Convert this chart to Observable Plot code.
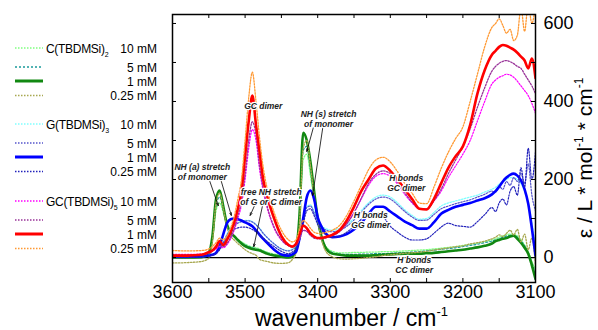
<!DOCTYPE html>
<html><head><meta charset="utf-8">
<script src="https://cdn.jsdelivr.net/npm/d3@7"></script>
<script src="https://cdn.jsdelivr.net/npm/@observablehq/plot@0.6"></script>
<style>body{margin:0;background:#fff} #chart{width:598px;height:330px}</style>
</head><body><div id="chart"></div>
<script>
// wavenumber grid (cm-1)
const wn = [3600,3580,3560,3550,3545,3540,3535,3530,3525,3520,3515,3510,3505,3500,3495,3490,3485,3480,3475,3470,
  3460,3450,3440,
  3435,3430,3425,3420,3415,3410,3405,3400,3395,3390,
  3380,3370,3360,3350,3340,3330,3320,3310,3300,3290,3280,3270,3260,3250,3240,3230,3220,3210,3200,3190,3180,3170,3160,
  3155,3150,3145,3140,3135,3130,3125,3120,3115,3110,3105,3100];

// C(TBDMSi)2
const C10 = [3,3,4,12,45,120,140,115,80,60,52,45,40,35,30,27,25,22,18,14, 9,6,5,
  8,22,85,250,265,210,150,95,55,32,
  16,12,12,13,13,14,14,15,15,16,17,18,19,20,22,24,26,28,31,34,37,41,45,
  48,52,55,58,60,60,55,45,32,15,-10,-30];
const C5 = [1,1,2,10,50,135,155,122,82,62,53,45,38,32,28,25,22,20,16,12, 7,4,2,
  5,20,95,275,285,225,155,95,52,28,
  13,9,8,8,9,9,10,10,11,12,13,14,15,17,19,21,23,25,28,31,34,38,42,
  45,48,52,55,57,58,52,42,30,12,-15,-40];
const C1 = [0,0,1,12,55,150,172,130,85,64,55,45,36,29,25,22,20,18,14,10, 5,2,0,
  3,20,110,320,300,245,170,100,55,28,
  10,7,5,5,5,5,6,7,8,9,10,10,10,11,12,14,16,18,20,23,26,30,36,
  42,45,48,50,54,56,48,38,25,10,-20,-55];
const C025 = [-14,-13,-10,-2,40,140,165,125,78,55,45,36,28,20,14,10,6,-5,-8,-10, -14,-15,-13,
  -5,10,90,280,300,235,160,95,48,20,
  2,-3,-4,-3,-2,0,2,5,7,9,11,12,14,16,19,22,25,28,30,35,38,42,48,
  52,58,54,62,70,58,72,40,60,20,50,-20];
// G(TBDMSi)3
const G10 = [3,3,4,6,8,12,22,40,60,75,85,90,93,95,95,92,85,75,62,52, 35,22,18,
  22,30,55,95,130,135,118,95,82,75,
  70,75,85,100,120,140,155,160,155,140,122,108,98,100,115,132,140,145,150,155,160,168,175,
  180,188,195,200,205,205,200,190,170,140,90,30];
const G5 = [2,2,3,5,7,11,22,38,58,72,82,88,92,94,94,91,84,74,62,52, 35,22,17,
  20,28,52,92,128,132,115,92,80,72,
  66,70,80,96,116,136,150,155,150,135,118,104,95,96,110,125,132,138,143,148,155,162,170,
  168,182,175,195,185,205,195,215,190,240,160,120];
const G1 = [2,2,3,5,7,12,30,60,88,98,100,98,95,90,86,80,70,58,48,38, 20,8,5,
  8,14,50,100,155,172,150,103,80,64,
  52,54,60,72,88,112,130,130,118,105,92,83,74,74,90,112,122,130,135,140,146,152,162,
  170,182,195,205,212,215,210,198,175,138,75,5];
const G025 = [0,0,2,4,6,10,20,35,52,65,72,76,78,78,76,72,66,58,50,42, 28,16,10,
  14,22,45,85,120,125,108,85,70,60,
  52,55,65,80,98,112,115,105,80,65,52,45,45,48,62,78,88,82,80,78,92,110,128,
  118,140,150,135,170,182,160,230,180,280,200,270];
// GC(TBDMSi)5
const GC10 = [8,8,9,12,16,22,28,25,33,48,70,100,135,200,280,328,300,225,170,130, 75,45,30,
  28,32,48,70,68,58,52,50,50,52,
  58,68,88,115,150,185,208,215,208,188,162,140,125,125,145,170,205,235,265,300,350,400,445,
  455,462,466,470,468,462,452,440,428,415,395,370];
const GC5 = [6,6,8,12,17,25,32,28,36,52,75,108,145,215,300,348,315,235,178,135, 78,46,30,
  27,31,47,70,67,57,50,48,48,50,
  56,66,86,115,152,190,213,222,215,193,166,142,126,124,145,175,215,250,285,330,385,435,478,
  490,498,503,505,502,497,490,485,470,455,440,420];
const GC1 = [5,5,7,14,18,28,42,32,45,65,90,125,170,260,350,415,340,270,200,160, 100,55,32,
  28,35,60,82,75,62,54,50,50,52,
  58,70,95,130,170,200,228,236,222,200,175,150,125,123,150,190,230,260,285,340,420,480,520,
  530,540,545,543,538,533,525,515,505,485,510,460];
const GC025 = [18,17,18,22,28,38,50,45,55,75,105,150,200,300,410,475,400,305,230,180, 115,70,45,
  40,45,72,95,88,75,65,62,62,64,
  70,82,108,145,185,225,250,257,245,220,190,165,140,138,180,228,270,305,335,400,470,540,590,
  600,612,595,575,585,556,570,640,580,650,600,650];

const groups = ["C(TBDMSi)", "G(TBDMSi)", "GC(TBDMSi)"];
const groupSubs = ["2", "3", "5"];
const concs = ["10 mM", "5 mM", "1 mM", "0.25 mM"];
const xTickLabels = [3600, 3500, 3400, 3300, 3200, 3100];
const xMinor = [3600,3550,3500,3450,3400,3350,3300,3250,3200,3150,3100];
const yTickLabels = [0, 200, 400, 600];
const yMinor = [0,100,200,300,400,500,600];

const notes = [
  {text: "GC dimer", x: 3475, y: 390},
  {text: "NH (s) stretch\nof monomer", x: 3385, y: 356},
  {text: "NH (a) stretch\nof monomer", x: 3559, y: 220},
  {text: "free NH stretch\nof G or C dimer", x: 3464, y: 155},
  {text: "H bonds\nGG dimer", x: 3327, y: 96},
  {text: "H bonds\nGC dimer", x: 3278, y: 192},
  {text: "H bonds\nCC dimer", x: 3267, y: -19}
];
const arrows = [
  {x1: 3406, y1: 333, x2: 3415, y2: 272},
  {x1: 3393, y1: 333, x2: 3407, y2: 159},
  {x1: 3550, y1: 203, x2: 3537, y2: 133},
  {x1: 3534, y1: 203, x2: 3519, y2: 108},
  {x1: 3487, y1: 133, x2: 3493, y2: 108},
  {x1: 3476, y1: 133, x2: 3488, y2: 28}
];

const series = [
  {key: "C10", v: C10, color: "#80ff80", dash: "1.5,1.5", w: 1.3},
  {key: "C5", v: C5, color: "#1a9a9a", dash: "2,2", w: 1.2},
  {key: "C1", v: C1, color: "#118811", dash: null, w: 2.6},
  {key: "C025", v: C025, color: "#a8a850", dash: "1.5,1.5", w: 1.3},
  {key: "G10", v: G10, color: "#80ffff", dash: "1.5,1.5", w: 1.3},
  {key: "G5", v: G5, color: "#5555cc", dash: "1.5,1.5", w: 1.2},
  {key: "G1", v: G1, color: "#0000ff", dash: null, w: 2.6},
  {key: "G025", v: G025, color: "#2222bb", dash: "1.5,1.5", w: 1.2},
  {key: "GC10", v: GC10, color: "#ff00ff", dash: "1.5,1.5", w: 1.2},
  {key: "GC5", v: GC5, color: "#993399", dash: "1.5,1.5", w: 1.3},
  {key: "GC1", v: GC1, color: "#ff0000", dash: null, w: 2.6},
  {key: "GC025", v: GC025, color: "#ff9933", dash: "1.5,1.5", w: 1.3}
];

const W = 598, H = 330, mL = 172, mR = 63, mT = 14, mB = 48;
const innerW = W - mL - mR, innerH = H - mT - mB;
const font = "'Liberation Sans', Arial, Helvetica, sans-serif";

const lineMarks = series.map(s => Plot.line(wn.map((w, i) => ({wn: w, v: s.v[i]})), {
  x: "wn", y: "v", stroke: s.color, strokeWidth: s.w,
  strokeDasharray: s.dash ?? undefined, curve: "monotone-x", clip: true
}));

const chart = Plot.plot({
  width: W, height: H,
  marginLeft: mL, marginRight: mR, marginTop: mT, marginBottom: mB,
  style: {fontFamily: font, background: "#fff", color: "#000"},
  x: {domain: [3600, 3100], label: null},
  y: {domain: [-64, 623], label: null},
  marks: [
    Plot.ruleY([0], {stroke: "#000", strokeWidth: 1.3}),
    ...lineMarks,
    Plot.arrow(arrows, {x1: "x1", y1: "y1", x2: "x2", y2: "y2", stroke: "#000", strokeWidth: 0.8, headLength: 5, headAngle: 40}),
    Plot.text(notes, {x: "x", y: "y", text: "text", fontSize: 8.5, fontWeight: "bold", fontStyle: "italic",
      lineHeight: 1.15, fill: "#222", stroke: "white", strokeWidth: 2.5, paintOrder: "stroke"}),
    Plot.tickX(xMinor, {x: d => d, insetTop: innerH - 4, stroke: "#000", strokeWidth: 1}),
    Plot.tickX(xMinor, {x: d => d, insetBottom: innerH - 4, stroke: "#000", strokeWidth: 1}),
    Plot.tickY(yMinor, {y: d => d, insetRight: innerW - 4, stroke: "#000", strokeWidth: 1}),
    Plot.tickY(yMinor, {y: d => d, insetLeft: innerW - 4, stroke: "#000", strokeWidth: 1}),
    Plot.axisX(xTickLabels, {anchor: "bottom", tickSize: 0, tickPadding: 3, fontSize: 18, label: null, tickFormat: d => String(d)}),
    Plot.axisY(yTickLabels, {anchor: "right", tickSize: 0, tickPadding: 8, fontSize: 18, label: null, tickFormat: d => String(d)}),
    Plot.frame({stroke: "#000", strokeWidth: 1.5})
  ]
});
document.getElementById("chart").appendChild(chart);

const svg = d3.select(chart);
// axis titles
const xt = svg.append("text").attr("x", mL + innerW / 2 - 2).attr("y", 326)
  .attr("text-anchor", "middle").style("font-size", "23px").style("font-family", font).attr("fill", "#000");
xt.append("tspan").text("wavenumber / cm");
xt.append("tspan").attr("dy", -10).style("font-size", "13px").text("-1");

const yt = svg.append("text").attr("transform", `translate(592,158) rotate(-90)`)
  .attr("text-anchor", "middle").style("font-size", "21px").style("font-family", font).attr("fill", "#000");
yt.append("tspan").text("ε / L * mol");
yt.append("tspan").attr("dy", -9).style("font-size", "12px").text("-1");
yt.append("tspan").attr("dy", 9).text(" * cm");
yt.append("tspan").attr("dy", -9).style("font-size", "12px").text("-1");

// legend
const groupY = [48, 124, 201];
const rowOff = [0, 19, 33, 47.5];
const lg = svg.append("g").style("font-family", font).style("font-size", "12px");
groups.forEach((g, gi) => {
  concs.forEach((c, ci) => {
    const s = series[gi * 4 + ci];
    const y = groupY[gi] + rowOff[ci];
    lg.append("line").attr("x1", 15).attr("x2", 43).attr("y1", y).attr("y2", y)
      .attr("stroke", s.color).attr("stroke-width", s.dash ? 1.3 : 3)
      .attr("stroke-dasharray", s.dash ?? null);
    lg.append("text").attr("x", 157).attr("y", y + 4.5).attr("text-anchor", "end").attr("fill", "#000").text(c);
    if (ci === 0) {
      const t = lg.append("text").attr("x", 46).attr("y", y + 4.5).attr("text-anchor", "start")
        .attr("fill", "#000").style("letter-spacing", "-0.3px");
      t.append("tspan").text(g);
      t.append("tspan").attr("dy", 4).style("font-size", "7px").text(groupSubs[gi]);
    }
  });
});
</script>
</body></html>
